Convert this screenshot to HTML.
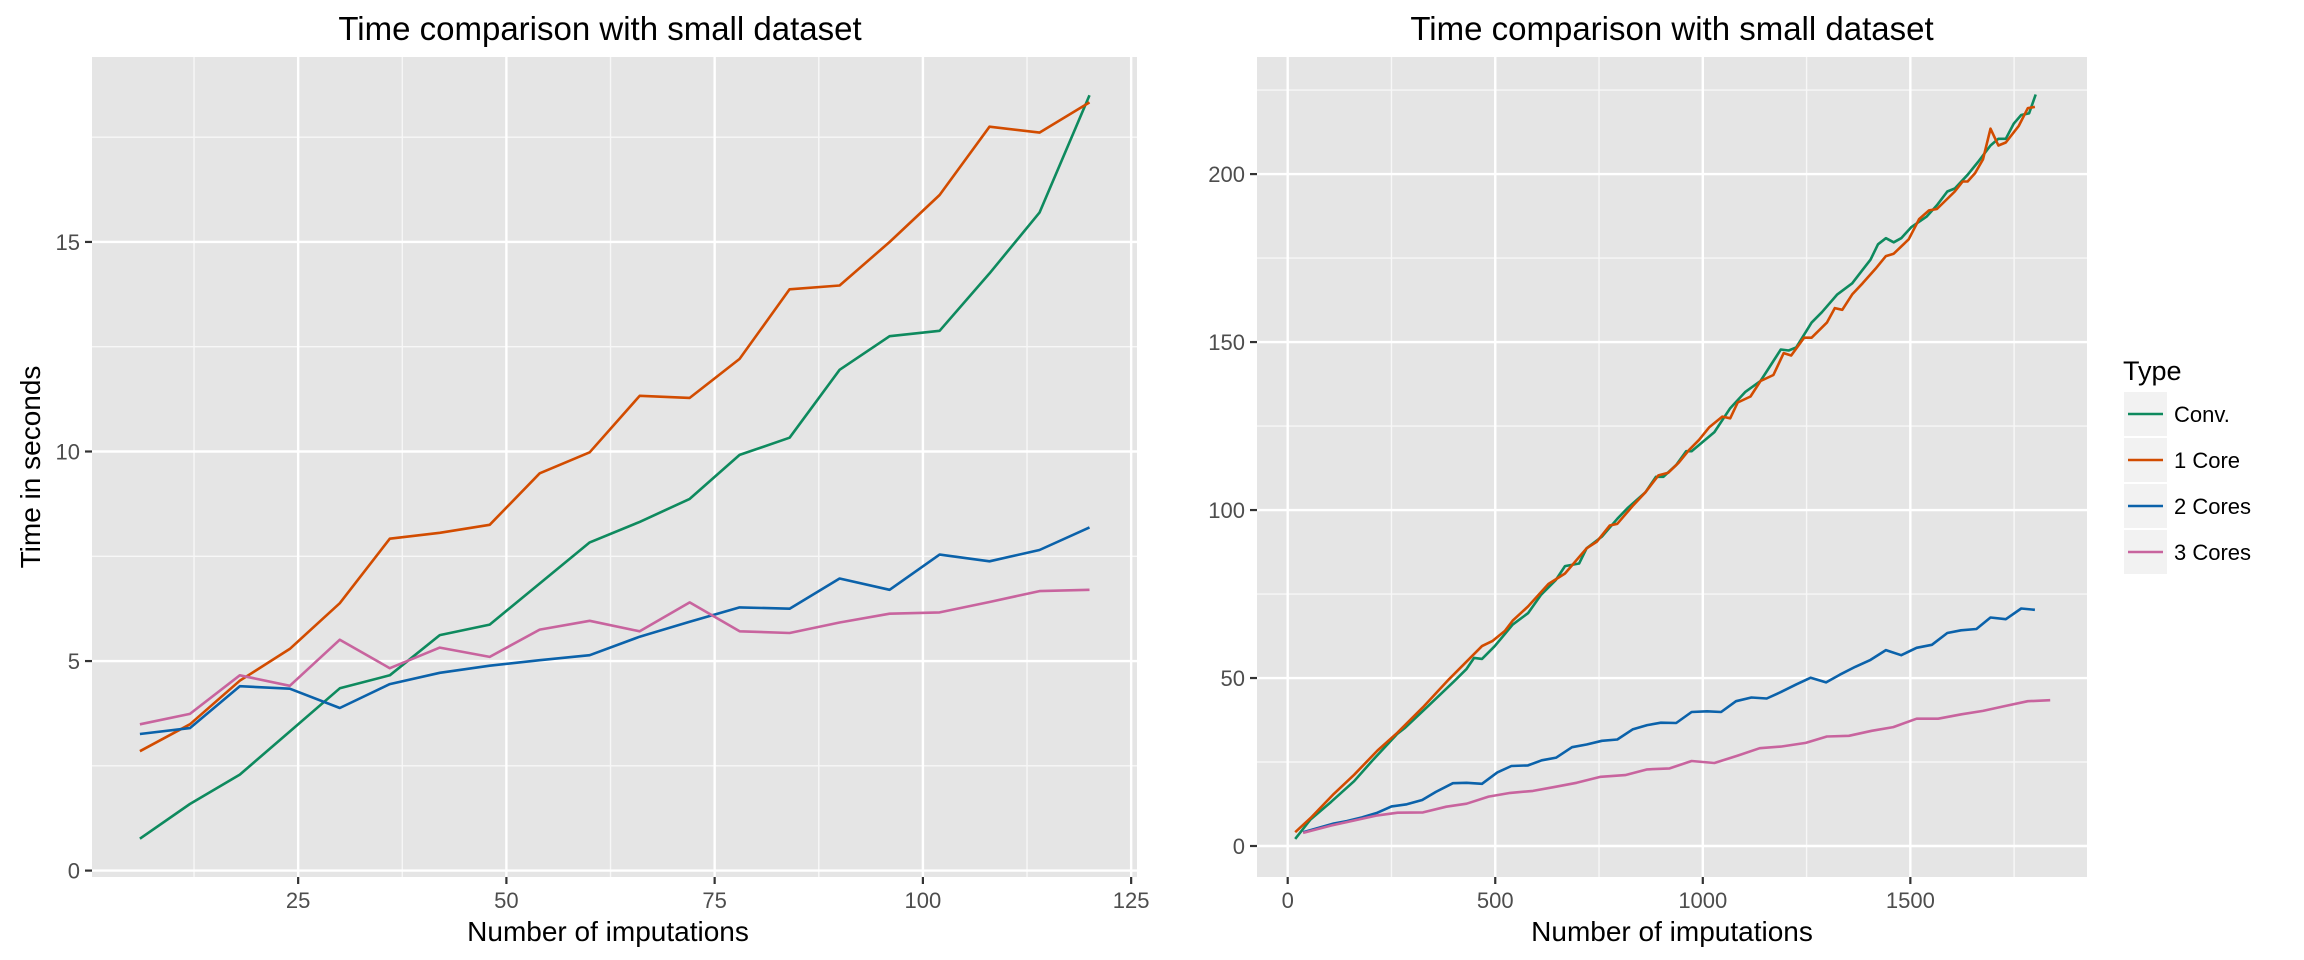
<!DOCTYPE html>
<html><head><meta charset="utf-8"><style>
html,body{margin:0;padding:0;background:#fff;}
svg{display:block;font-family:"Liberation Sans",Arial,sans-serif;}
</style></head><body>
<svg id="chart" width="2304" height="960" viewBox="0 0 2304 960" xmlns="http://www.w3.org/2000/svg">
<g id="left"></g>
<g id="right"></g>
<g id="legend"></g>
</svg>
<script>
// ---- Left chart data ----
const leftX = [6,12,18,24,30,36,42,48,54,60,66,72,78,84,90,96,102,108,114,120];
const leftConv = [0.76,1.59,2.29,3.32,4.35,4.66,5.62,5.87,6.85,7.83,8.32,8.87,9.92,10.33,11.95,12.75,12.88,14.25,15.7,18.5];
const left1Core = [2.85,3.49,4.53,5.29,6.38,7.92,8.06,8.25,9.48,9.98,11.33,11.28,12.21,13.87,13.96,15.0,16.12,17.75,17.61,18.33];
const left2Cores = [3.26,3.40,4.40,4.34,3.88,4.45,4.72,4.89,5.02,5.14,5.58,5.94,6.28,6.25,6.97,6.70,7.54,7.38,7.65,8.19];
const left3Cores = [3.49,3.74,4.66,4.41,5.51,4.83,5.32,5.10,5.75,5.96,5.71,6.40,5.71,5.67,5.92,6.13,6.16,6.41,6.67,6.70];
const leftXTicks = [25,50,75,100,125];
const leftYTicks = [0,5,10,15];

// ---- Right chart data ----
const rightConvX = [18,55,105,160,203,264,283,338,400,431,449,468,499,542,579,610,646,668,702,720,757,794,818,862,887,905,936,960,973,1028,1066,1102,1139,1188,1207,1225,1262,1287,1324,1360,1385,1404,1422,1441,1460,1478,1502,1539,1564,1589,1607,1638,1663,1693,1712,1730,1749,1767,1786,1802];
const rightConv = [2.1,7.9,13.2,19.3,25.3,33.4,35.2,41.6,48.9,52.7,56.0,55.7,59.5,65.9,69.3,74.7,79.2,83.3,84.1,88.6,92.1,97.4,100.5,105.3,109.9,109.9,113.4,117.5,117.5,123.2,130.3,135.1,138.4,147.8,147.5,148.4,155.8,158.9,164.2,167.5,171.5,174.5,179.1,180.9,179.7,180.9,184.2,187.3,190.7,194.8,195.7,199.8,203.6,208.5,210.5,210.5,215.0,217.6,218.1,223.7];
const right1CoreX = [18,55,111,160,216,264,326,388,468,493,523,542,579,628,668,720,745,776,794,831,862,893,917,942,967,991,1016,1047,1066,1084,1115,1139,1170,1195,1213,1244,1262,1299,1318,1336,1360,1385,1416,1441,1460,1496,1521,1545,1564,1607,1626,1638,1656,1675,1693,1712,1730,1761,1783,1800];
const right1Core = [4.1,8.3,15.5,21.2,28.4,33.7,41.3,49.6,59.5,61.0,64.0,67.1,71.3,78.0,81.1,88.6,90.6,95.4,95.9,101.2,105.3,110.3,111.1,114.1,117.9,120.9,124.7,127.8,127.3,132.0,133.8,138.4,140.2,146.7,146.0,151.3,151.3,155.8,160.1,159.6,164.2,167.5,171.8,175.6,176.3,180.6,186.6,189.2,189.6,194.8,197.8,197.8,200.3,204.4,213.5,208.5,209.4,214.3,219.6,220.0];
const right2CoresX = [37,111,142,179,216,250,287,324,357,398,431,468,505,539,579,612,647,685,720,757,794,831,866,899,936,973,1010,1044,1080,1117,1154,1188,1225,1260,1297,1330,1367,1404,1441,1478,1515,1552,1589,1622,1659,1693,1730,1767,1800];
const right2Cores = [4.1,6.7,7.4,8.5,9.9,11.8,12.4,13.7,16.1,18.7,18.8,18.5,21.9,23.8,24.0,25.5,26.3,29.4,30.2,31.3,31.7,34.7,36.0,36.7,36.6,39.9,40.1,39.9,43.1,44.2,43.9,45.8,48.1,50.1,48.7,51.0,53.3,55.4,58.3,56.8,59.0,59.9,63.4,64.2,64.6,68.0,67.5,70.7,70.3];
const right3CoresX = [37,105,160,216,265,326,382,431,484,536,591,640,696,754,813,866,920,973,1028,1084,1137,1188,1248,1299,1352,1407,1459,1515,1567,1623,1675,1730,1783,1837];
const right3Cores = [3.9,6.1,7.6,9.1,9.9,10.0,11.7,12.6,14.7,15.8,16.4,17.5,18.8,20.6,21.1,22.8,23.1,25.3,24.7,26.9,29.1,29.6,30.7,32.6,32.8,34.3,35.4,37.9,37.9,39.2,40.2,41.7,43.1,43.4];
const rightXTicks = [0,500,1000,1500];
const rightYTicks = [0,50,100,150,200];

const seriesNames = ["Conv.","1 Core","2 Cores","3 Cores"];
const seriesColors = ["#0E8A5E","#D24C00","#0B62AA","#C8649E"];

const NS = "http://www.w3.org/2000/svg";
function mk(parent, tag, attrs, text){
  const e = document.createElementNS(NS, tag);
  for (const k in attrs) e.setAttribute(k, attrs[k]);
  if (text !== undefined) e.textContent = text;
  parent.appendChild(e);
  return e;
}

function drawPanel(g, cfg){
  const {L,R,T,B,sx,sy,xMajor,xMinor,yMajor,yMinor,xTickLabels,yTickLabels,series,title,titleX,xTitleX} = cfg;
  const bg = mk(g,'rect',{x:L,y:T,width:R-L,height:B-T,fill:'#E5E5E5'});
  
  
  xMinor.forEach(v=>{const l=mk(g,'line',{x1:sx(v),x2:sx(v),y1:T,y2:B,stroke:'#F7F7F7','stroke-width':1.4});
     });
  yMinor.forEach(v=>{const l=mk(g,'line',{x1:L,x2:R,y1:sy(v),y2:sy(v),stroke:'#F7F7F7','stroke-width':1.4});
     });
  xMajor.forEach(v=>{const l=mk(g,'line',{x1:sx(v),x2:sx(v),y1:T,y2:B,stroke:'#fff','stroke-width':2.4});
     });
  yMajor.forEach(v=>{const l=mk(g,'line',{x1:L,x2:R,y1:sy(v),y2:sy(v),stroke:'#fff','stroke-width':2.4});
     });
  xTickLabels.forEach(v=>{
    const t=mk(g,'line',{x1:sx(v),x2:sx(v),y1:B,y2:B+7,stroke:'#333','stroke-width':2.2});
     
    const tx=mk(g,'text',{x:sx(v),y:B+31,'text-anchor':'middle','font-size':22,fill:'#4D4D4D'},String(v));
     
  });
  yTickLabels.forEach(v=>{
    const t=mk(g,'line',{x1:L-7,x2:L,y1:sy(v),y2:sy(v),stroke:'#333','stroke-width':2.2});
     
    const tx=mk(g,'text',{x:L-12,y:sy(v)+8,'text-anchor':'end','font-size':22,fill:'#4D4D4D'},String(v));
     
  });
  series.forEach((s,i)=>{
    const pts = s.x.map((xv,j)=>sx(xv).toFixed(1)+','+sy(s.y[j]).toFixed(1)).join(' ');
    const p=mk(g,'polyline',{points:pts,fill:'none',stroke:seriesColors[i],'stroke-width':2.6,'stroke-linejoin':'round'});
    
    
  });
  const tt=mk(g,'text',{x:titleX,y:40,'text-anchor':'middle','font-size':33,fill:'#000'},title);
   
  const xt=mk(g,'text',{x:xTitleX,y:941,'text-anchor':'middle','font-size':28,fill:'#000'},'Number of imputations');
   
}

// Left panel
(function(){
  const g=document.getElementById('left');
  const sx=v=>89.9+v*8.33, sy=v=>870.6-v*41.91;
  drawPanel(g,{L:92,R:1137,T:57,B:877,sx,sy,
    xMajor:leftXTicks, xMinor:[12.5,37.5,62.5,87.5,112.5],
    yMajor:leftYTicks, yMinor:[2.5,7.5,12.5,17.5],
    xTickLabels:leftXTicks, yTickLabels:leftYTicks,
    series:[{key:'conv',x:leftX,y:leftConv},{key:'1core',x:leftX,y:left1Core},{key:'2cores',x:leftX,y:left2Cores},{key:'3cores',x:leftX,y:left3Cores}],
    title:'Time comparison with small dataset', titleX:600, xTitleX:608});
  const yt=mk(g,'text',{x:0,y:0,'text-anchor':'middle','font-size':28,fill:'#000',transform:'translate(40,467) rotate(-90)'},'Time in seconds');
   
})();

// Right panel
(function(){
  const g=document.getElementById('right');
  const sx=v=>1287.7+v*0.4151, sy=v=>846-v*3.3596;
  drawPanel(g,{L:1257,R:2087,T:57,B:877,sx,sy,
    xMajor:rightXTicks, xMinor:[250,750,1250,1750],
    yMajor:rightYTicks, yMinor:[25,75,125,175,225],
    xTickLabels:rightXTicks, yTickLabels:rightYTicks,
    series:[{key:'conv',x:rightConvX,y:rightConv},{key:'1core',x:right1CoreX,y:right1Core},{key:'2cores',x:right2CoresX,y:right2Cores},{key:'3cores',x:right3CoresX,y:right3Cores}],
    title:'Time comparison with small dataset', titleX:1672, xTitleX:1672});
})();

// Legend
(function(){
  const g=document.getElementById('legend');
  const t=mk(g,'text',{x:2123,y:380,'font-size':27,fill:'#000'},'Type');
   
  seriesNames.forEach((n,i)=>{
    const y0=392+i*46;
    const e=mk(g,'g',{});
    
    
    mk(e,'rect',{x:2124,y:y0,width:43,height:44,fill:'#F2F2F2'});
    mk(e,'line',{x1:2128,x2:2163,y1:y0+22,y2:y0+22,stroke:seriesColors[i],'stroke-width':2.6});
    mk(e,'text',{x:2174,y:y0+30,'font-size':22,fill:'#000'},n);
  });
})();
</script>
</body></html>
